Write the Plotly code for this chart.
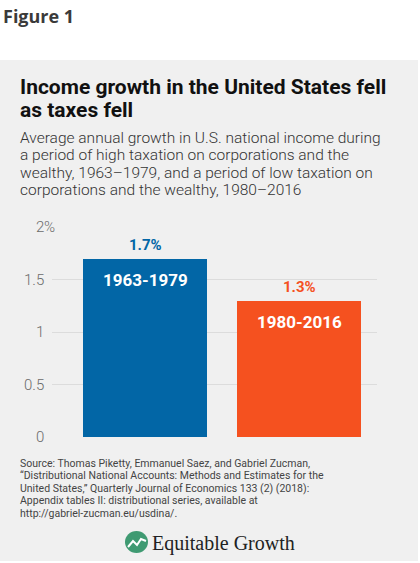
import plotly.graph_objects as go

W, H = 420, 563

categories = ["1963-1979", "1980-2016"]
values = [1.7, 1.3]
value_labels = ["1.7%", "1.3%"]
bar_colors = ["#0266a6", "#f5511f"]
tick_vals = [0, 0.5, 1, 1.5, 2]
tick_text = ["0", "0.5", "1", "1.5", "2"]

title_lines = ["Income growth in the United States fell", "as taxes fell"]
subtitle_lines = [
    "Average annual growth in U.S. national income during",
    "a period of high taxation on corporations and the",
    "wealthy, 1963–1979, and a period of low taxation on",
    "corporations and the wealthy, 1980–2016",
]
source_lines = [
    "Source: Thomas Piketty, Emmanuel Saez, and Gabriel Zucman,",
    "\u201cDistributional National Accounts: Methods and Estimates for the",
    "United States,\u201d Quarterly Journal of Economics 133 (2) (2018):",
    "Appendix tables II: distributional series, available at",
    "http://gabriel-zucman.eu/usdina/.",
]


def px(x):
    return x / W


def py(y):
    return 1 - y / H


x_idx = list(range(len(categories)))

fig = go.Figure()
fig.add_trace(go.Bar(
    x=x_idx, y=values, width=0.805,
    marker=dict(color=bar_colors, line=dict(width=0)),
    hoverinfo="skip",
))

annotations = []
# value labels above bars, category labels inside bars
for i, (v, lab, cat, col) in enumerate(zip(values, value_labels, categories, bar_colors)):
    annotations.append(dict(x=i, y=v, xref="x", yref="y", text=lab, showarrow=False,
                            yanchor="bottom", yshift=3,
                            font=dict(family="Roboto", size=15, color=col, weight="bold")))
    annotations.append(dict(x=i, y=v, xref="x", yref="y", text=cat, showarrow=False,
                            yanchor="middle", yshift=-21,
                            font=dict(family="Roboto", size=17, color="white", weight="bold")))

# y tick labels (number right-aligned, % hanging)
for tv, tt in zip(tick_vals, tick_text):
    annotations.append(dict(x=px(46), y=tv, xref="paper", yref="y", text=tt, showarrow=False,
                            xanchor="right", yanchor="middle",
                            font=dict(family="Roboto", size=15, color="#6b6b6b", weight=300)))
annotations.append(dict(x=px(46), y=tick_vals[-1], xref="paper", yref="y", text="%", showarrow=False,
                        xanchor="left", yanchor="middle", xshift=-4,
                        font=dict(family="Roboto", size=15, color="#6b6b6b", weight=300)))

# Figure 1 heading
annotations.append(dict(x=px(1), y=py(16), xref="paper", yref="paper", text="<b>Figure 1</b>",
                        showarrow=False, xanchor="left", yanchor="middle",
                        font=dict(family="Open Sans", size=18, color="#3a3a3a")))

# Title
for k, line in enumerate(title_lines):
    annotations.append(dict(x=px(18), y=py(87 + 23.5 * k), xref="paper", yref="paper",
                            text=line, showarrow=False, xanchor="left", yanchor="middle",
                            font=dict(family="Roboto", size=21, color="#111111", weight="bold")))

# Subtitle
for k, line in enumerate(subtitle_lines):
    annotations.append(dict(x=px(18), y=py(137.5 + 17.6 * k), xref="paper", yref="paper",
                            text=line, showarrow=False, xanchor="left", yanchor="middle",
                            font=dict(family="Roboto", size=15.5, color="#333333", weight=300)))

# Source
for k, line in enumerate(source_lines):
    annotations.append(dict(x=px(18), y=py(463.5 + 12.4 * k), xref="paper", yref="paper",
                            text=line, showarrow=False, xanchor="left", yanchor="middle",
                            font=dict(family="Roboto", size=10.5, color="#444444")))

# Logo text
annotations.append(dict(x=px(150), y=py(543), xref="paper", yref="paper", text="Equitable Growth",
                        showarrow=False, xanchor="left", yanchor="middle",
                        font=dict(family="Liberation Serif", size=20, color="#222222")))

shapes = [
    dict(type="rect", xref="paper", yref="paper", x0=0, x1=px(418), y0=py(561), y1=py(60),
         fillcolor="#f0f0f0", line=dict(width=0), layer="below"),
    dict(type="circle", xref="paper", yref="paper", x0=px(125), x1=px(148), y0=py(553), y1=py(531),
         fillcolor="#3f9a72", line=dict(width=0)),
    dict(type="path", xref="paper", yref="paper",
         path=f"M {px(128)} {py(547)} L {px(133)} {py(541)} L {px(137)} {py(545)} L {px(141)} {py(539)} L {px(146)} {py(541)}",
         line=dict(color="white", width=2)),
]

fig.update_layout(
    width=W, height=H,
    margin=dict(l=0, r=0, t=0, b=0),
    paper_bgcolor="white",
    plot_bgcolor="rgba(0,0,0,0)",
    showlegend=False,
    bargap=0,
    xaxis=dict(domain=[px(52), px(377)], range=[-0.604, 1.506], showticklabels=False,
               showgrid=False, zeroline=False, fixedrange=True),
    yaxis=dict(domain=[py(437), py(227)], range=[0, 2], tickvals=tick_vals, showticklabels=False,
               showgrid=True, gridcolor="#dcdcdc", gridwidth=1, zeroline=False, fixedrange=True),
    annotations=annotations,
    shapes=shapes,
)

fig.write_html("out.html")
